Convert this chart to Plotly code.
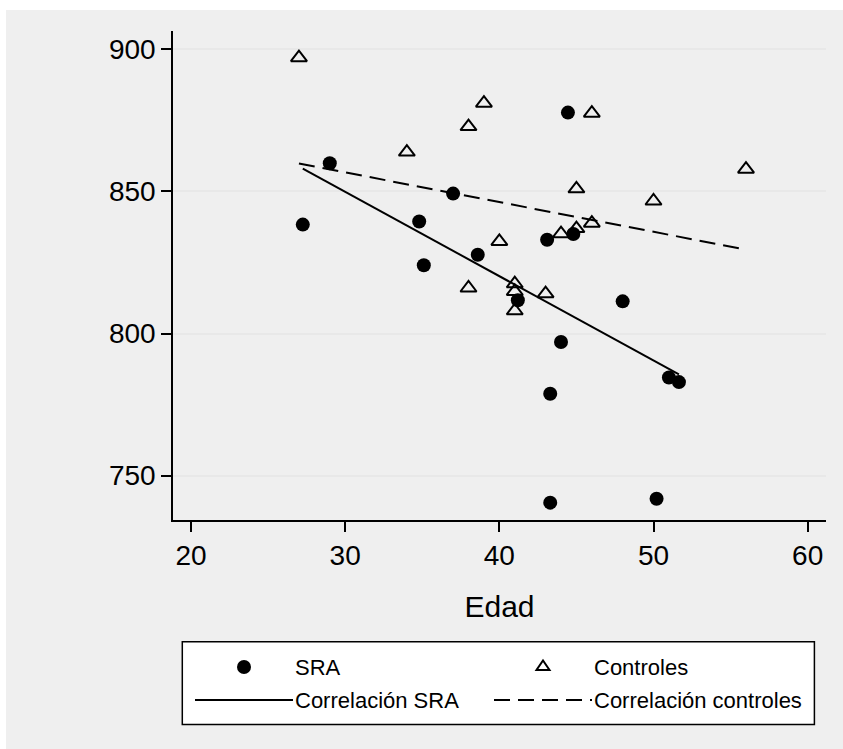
import plotly.graph_objects as go

# Edad vs. valor for the two groups
sra_edad = [27.25, 29.0, 34.8, 35.1, 37.0, 38.6, 41.2, 43.1, 43.3, 43.3, 44.0, 44.45, 44.8, 48.0, 50.2, 51.0, 51.65]
sra_valor = [838.3, 859.9, 839.4, 824.0, 849.2, 827.7, 811.7, 833.0, 778.8, 740.5, 797.0, 877.7, 835.0, 811.3, 741.9, 784.5, 782.9]

ctrl_edad = [27, 34, 38, 38, 39, 40, 41, 41, 41, 43, 44, 45, 45, 46, 46, 50, 56]
ctrl_valor = [897.0, 863.8, 872.8, 816.0, 881.0, 832.4, 817.5, 814.8, 808.0, 814.0, 835.1, 850.9, 836.9, 877.5, 838.8, 846.6, 857.8]

# Linear fits (endpoints at the min / max age of each group)
fit_sra_edad = [27.25, 51.65]
fit_sra_valor = [858.0, 785.6]
fit_ctrl_edad = [27, 56]
fit_ctrl_valor = [859.8, 829.5]

x_ticks = [20, 30, 40, 50, 60]
y_ticks = [750, 800, 850, 900]
legend_labels = ["SRA", "Controles", "Correlación SRA", "Correlación controles"]

FONT = "Liberation Sans, Arial, sans-serif"
W, H = 843, 749
ML, MR, MT, MB = 173, 17, 31, 229
PW, PH = W - ML - MR, H - MT - MB


def px(x):
    return (x - ML) / PW


def py(y):
    return (H - MB - y) / PH


fig = go.Figure()

fig.add_trace(go.Scatter(
    x=sra_edad, y=sra_valor, mode="markers", name=legend_labels[0],
    marker=dict(symbol="circle", size=14, color="black"),
    showlegend=False, cliponaxis=False,
))
fig.add_trace(go.Scatter(
    x=ctrl_edad, y=ctrl_valor, mode="markers", name=legend_labels[1],
    marker=dict(symbol="triangle-up-open", size=14, color="black",
                line=dict(width=2, color="black")),
    showlegend=False, cliponaxis=False,
))
fig.add_trace(go.Scatter(
    x=fit_sra_edad, y=fit_sra_valor, mode="lines", name=legend_labels[2],
    line=dict(color="black", width=2), showlegend=False,
))
fig.add_trace(go.Scatter(
    x=fit_ctrl_edad, y=fit_ctrl_valor, mode="lines", name=legend_labels[3],
    line=dict(color="black", width=2, dash="16px,8px"), showlegend=False,
))

shapes = []
# grey outer background (thin white border on top and left)
shapes.append(dict(type="rect", xref="paper", yref="paper", layer="below",
                   x0=px(6), x1=px(W + 5), y0=py(H + 5), y1=py(10),
                   fillcolor="#EFEFEF", line=dict(width=0)))

# legend box
shapes.append(dict(type="rect", xref="paper", yref="paper",
                   x0=px(182.3), x1=px(814.4), y0=py(724.5), y1=py(641.7),
                   fillcolor="white", line=dict(color="black", width=1.5)))

row1, row2 = 667, 700
col1_key, col2_key = (195, 293), (494, 592)
col1_txt, col2_txt = 293, 592

# legend keys
shapes.append(dict(type="circle", xref="paper", yref="paper",
                   xsizemode="pixel", ysizemode="pixel",
                   xanchor=px(sum(col1_key) / 2), yanchor=py(row1),
                   x0=-7, x1=7, y0=-7, y1=7,
                   fillcolor="black", line=dict(color="black", width=0)))
shapes.append(dict(type="path", xref="paper", yref="paper",
                   xsizemode="pixel", ysizemode="pixel",
                   xanchor=px(sum(col2_key) / 2), yanchor=py(row1),
                   path="M-6.5,-3 L6.5,-3 L0,6.5 Z",
                   line=dict(color="black", width=2)))
shapes.append(dict(type="line", xref="paper", yref="paper",
                   x0=px(col1_key[0]), x1=px(col1_key[1]), y0=py(row2), y1=py(row2),
                   line=dict(color="black", width=2)))
shapes.append(dict(type="line", xref="paper", yref="paper",
                   x0=px(col2_key[0]), x1=px(col2_key[1]), y0=py(row2), y1=py(row2),
                   line=dict(color="black", width=2, dash="16px,8px")))

annotations = []
for txt, xx, yy in [(legend_labels[0], col1_txt, row1), (legend_labels[1], col2_txt, row1),
                    (legend_labels[2], col1_txt, row2), (legend_labels[3], col2_txt, row2)]:
    annotations.append(dict(text=txt, xref="paper", yref="paper", x=px(xx), y=py(yy),
                            xanchor="left", yanchor="middle", showarrow=False,
                            font=dict(family=FONT, size=22, color="black")))

fig.update_layout(
    width=W, height=H,
    margin=dict(l=ML, r=MR, t=MT, b=MB, pad=0),
    paper_bgcolor="white",
    plot_bgcolor="white",
    font=dict(family=FONT, color="black"),
    shapes=shapes,
    annotations=annotations,
    xaxis=dict(
        range=[18.83, 61.19], tickvals=x_ticks, ticktext=[str(v) for v in x_ticks],
        showgrid=False, zeroline=False, showline=True, linecolor="black", linewidth=1.5,
        ticks="outside", ticklen=10, tickwidth=1.5, tickcolor="black",
        tickfont=dict(family=FONT, size=28, color="black"),
        title=dict(text="Edad", font=dict(family=FONT, size=30, color="black"), standoff=26),
    ),
    yaxis=dict(
        range=[734.4, 906.4], tickvals=y_ticks, ticktext=[str(v) for v in y_ticks],
        showgrid=True, gridcolor="#E8E8E8", gridwidth=1.5,
        zeroline=False, showline=True, linecolor="black", linewidth=1.5,
        ticks="outside", ticklen=10, tickwidth=1.5, tickcolor="black",
        tickfont=dict(family=FONT, size=28, color="black"),
    ),
)

fig.write_html("out.html")
